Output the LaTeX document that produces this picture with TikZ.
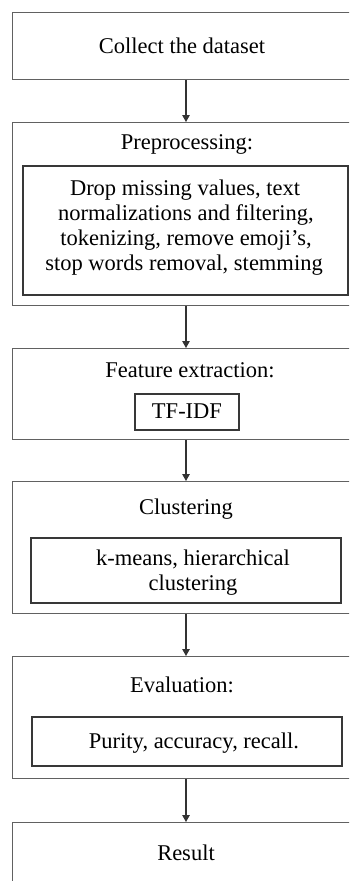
\documentclass[tikz,border=0pt]{standalone}
\usepackage{fontspec}
\setmainfont{Liberation Serif}
\usetikzlibrary{arrows.meta}
\begin{document}
\begin{tikzpicture}[x=1pt,y=-1pt,
  outerbox/.style={draw=black!62, line width=1.2pt, rectangle, inner sep=0pt, anchor=north west, minimum width=350pt},
  innerbox/.style={draw=black!78, line width=1.4pt, rectangle, inner sep=0pt},
  lbl/.style={anchor=base, inner sep=0pt, font=\fontsize{22.5}{25}\selectfont},
  arr/.style={draw=black!80, line width=1.2pt, -{Triangle[length=7pt,width=7.5pt]}}]
\useasboundingbox (0,0) rectangle (349,881);
\clip (0,0) rectangle (349,881);
\fill[white] (0,0) rectangle (349,881);
\coordinate (ax) at (186,0);

% outer boxes
\node[outerbox, minimum height=67pt]  (b1) at (12,12) {};
\node[outerbox, minimum height=183pt] (b2) at (12,122) {};
\node[outerbox, minimum height=91pt]  (b3) at (12,348) {};
\node[outerbox, minimum height=132pt] (b4) at (12,481) {};
\node[outerbox, minimum height=122pt] (b5) at (12,656) {};
\node[outerbox, minimum height=90pt]  (b6) at (12,822) {};

% inner boxes
\node[innerbox, minimum width=325pt, minimum height=129pt] (i2) at (185.5,230.5) {};
\node[innerbox, minimum width=104pt, minimum height=36pt]  (i3) at (187,412) {};
\node[innerbox, minimum width=310pt, minimum height=65pt]  (i4) at (186,570.5) {};
\node[innerbox, minimum width=310pt, minimum height=49pt]  (i5) at (187,741.5) {};

% titles
\node[lbl] (t1) at (182,53) {Collect the dataset};
\node[lbl] (t2) at (187,149) {Preprocessing:};
\node[lbl] (t3) at (190,377) {Feature extraction:};
\node[lbl] (t4) at (186,514) {Clustering};
\node[lbl] (t5) at (182,692) {Evaluation:};
\node[lbl] (t6) at (186,860) {Result};

% inner texts
\node[lbl] (p1) at (185,195) {Drop missing values, text};
\node[lbl] (p2) at (186,220) {normalizations and filtering,};
\node[lbl] (p3) at (186,245) {tokenizing, remove emoji’s,};
\node[lbl] (p4) at (184,270) {stop words removal, stemming};
\node[lbl] (f1) at (187,418) {TF-IDF};
\node[lbl] (c1) at (193,565) {k-means, hierarchical};
\node[lbl] (c2) at (193,590) {clustering};
\node[lbl] (e1) at (194,748) {Purity, accuracy, recall.};

% arrows
\draw[arr] (b1.south -| ax) -- (b2.north -| ax);
\draw[arr] (b2.south -| ax) -- (b3.north -| ax);
\draw[arr] (b3.south -| ax) -- (b4.north -| ax);
\draw[arr] (b4.south -| ax) -- (b5.north -| ax);
\draw[arr] (b5.south -| ax) -- (b6.north -| ax);
\end{tikzpicture}
\end{document}
